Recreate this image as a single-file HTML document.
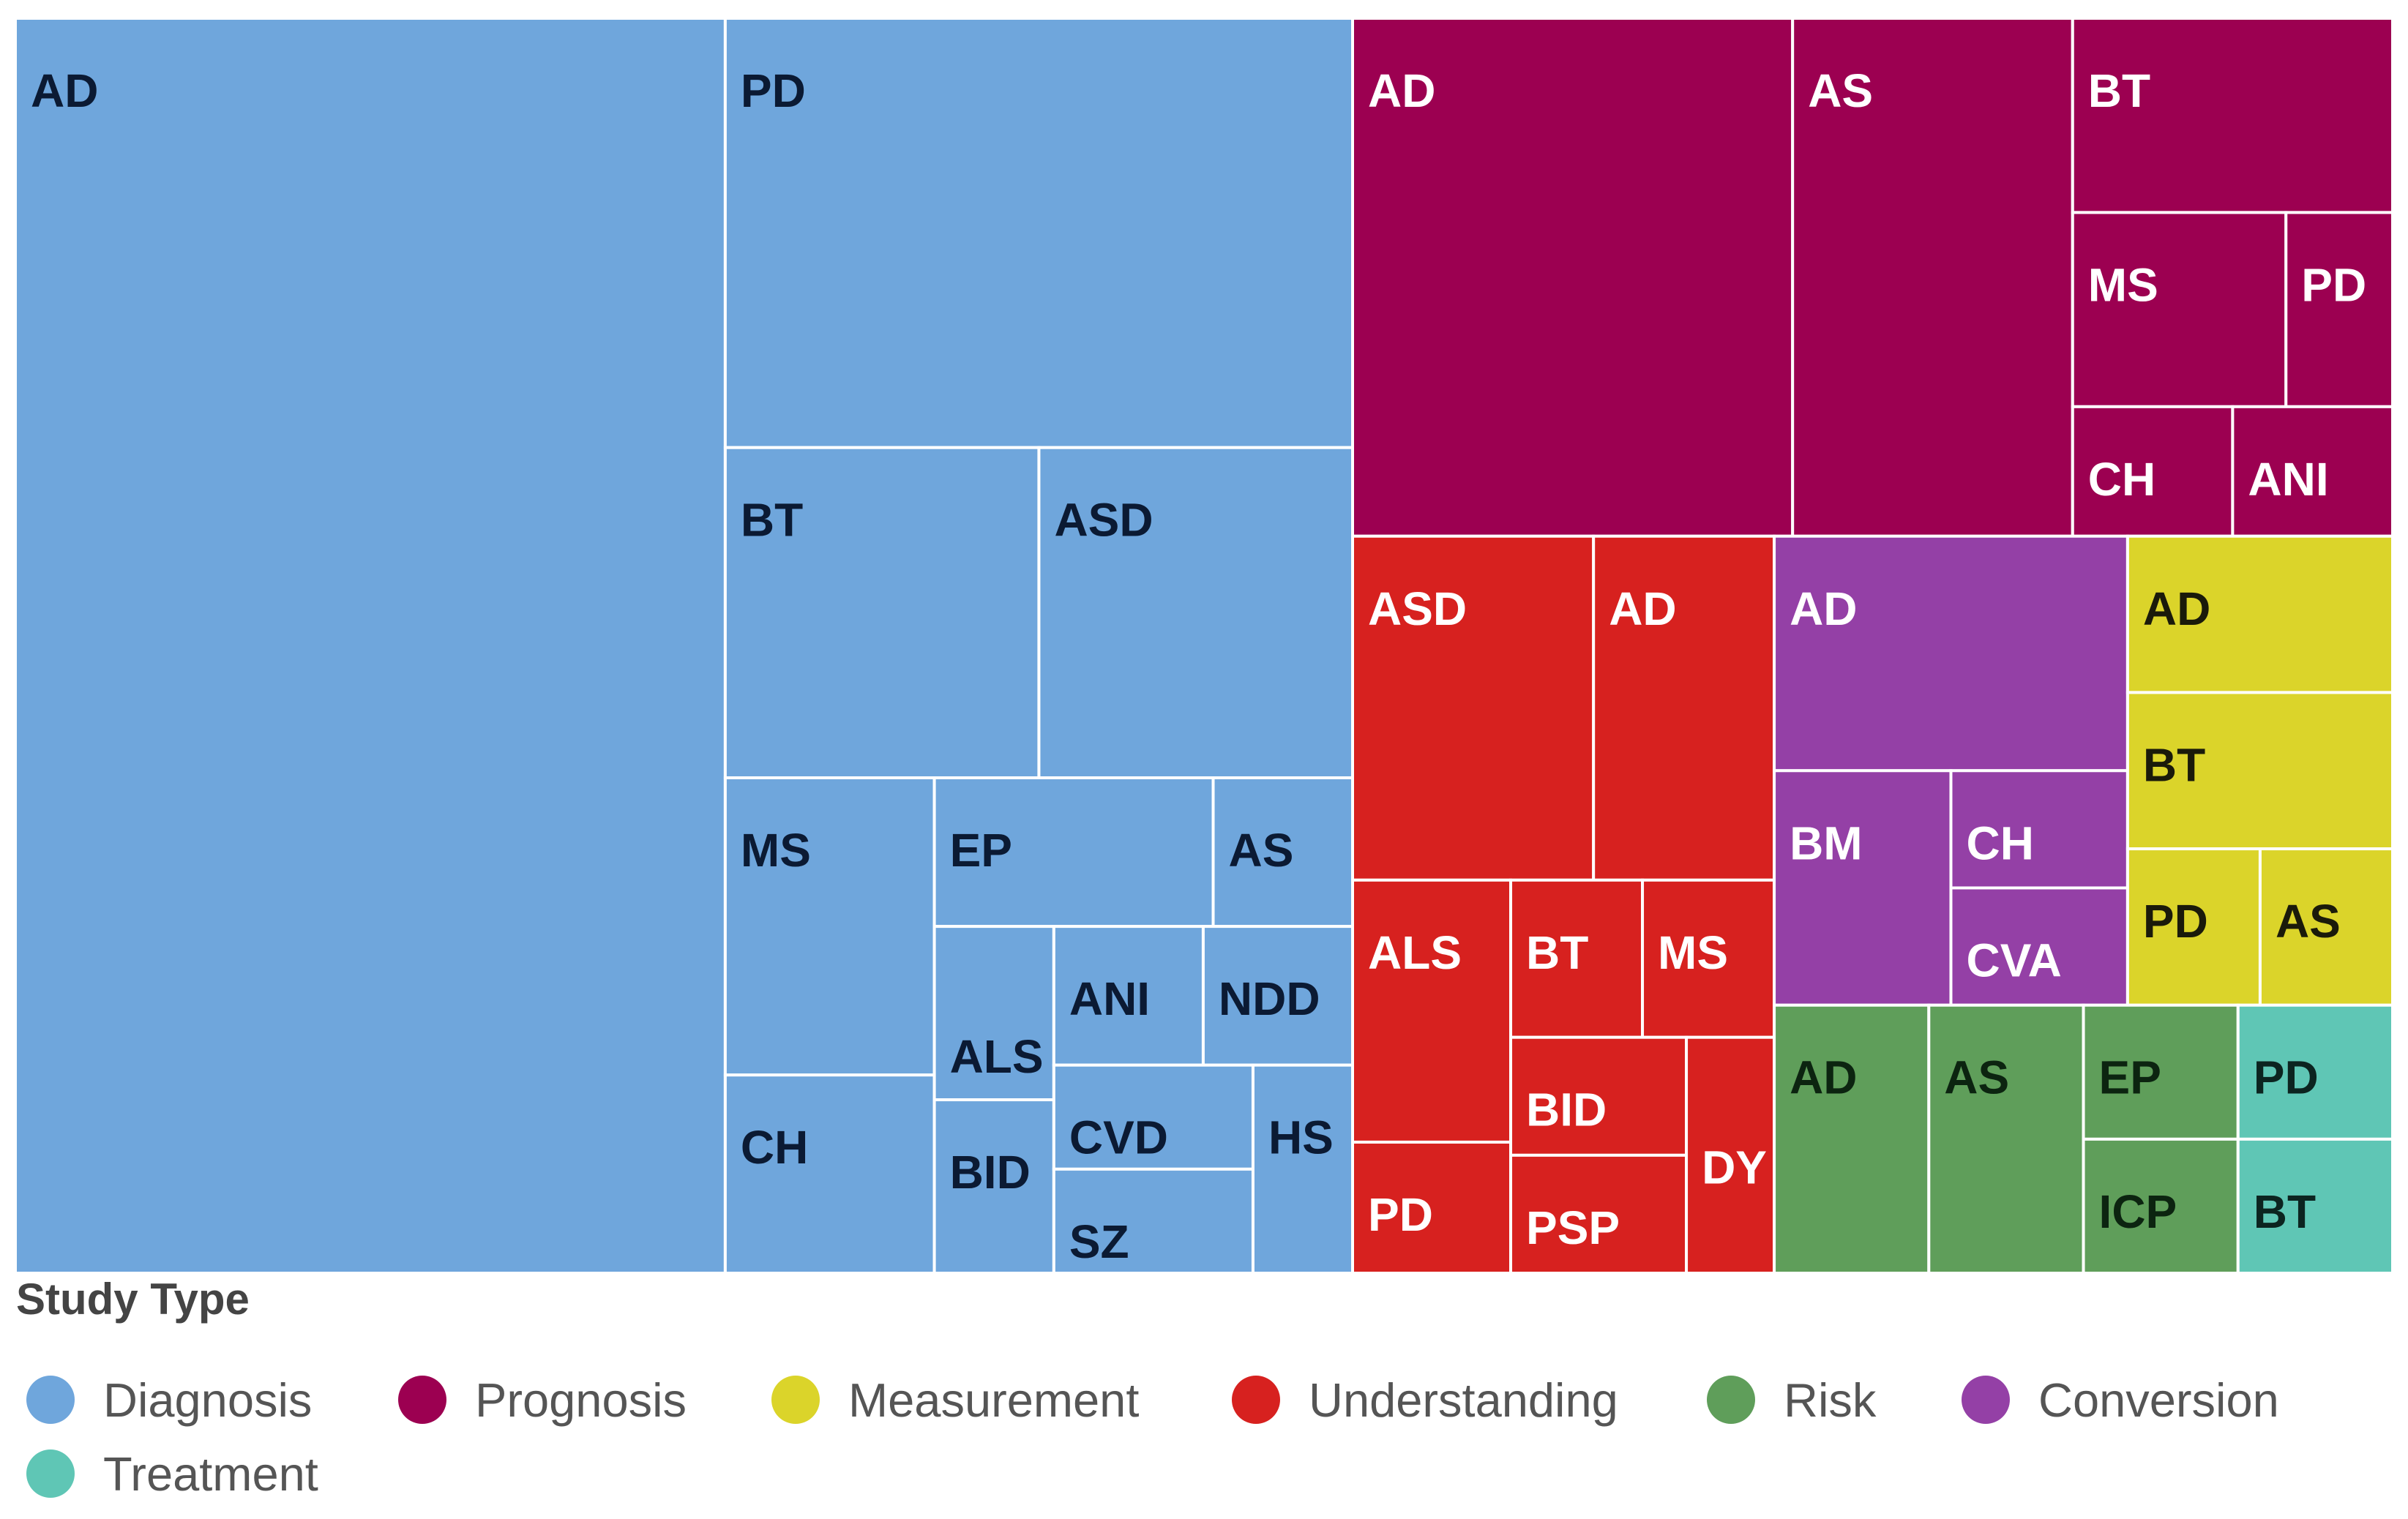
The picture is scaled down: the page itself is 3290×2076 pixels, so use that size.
<!DOCTYPE html>
<html>
<head>
<meta charset="utf-8">
<style>
  html,body{margin:0;padding:0;background:#fff;}
  svg{display:block;}
</style>
</head>
<body>
<svg id="chart" width="3290" height="2076" viewBox="0 0 3290 2076" xmlns="http://www.w3.org/2000/svg"></svg>
<script>
// ---- data ----
const categories = ["Diagnosis","Prognosis","Measurement","Understanding","Risk","Conversion","Treatment"];
const categoryColors = ["#6fa6dc","#9c0051","#dbd42a","#d7211f","#5f9e5a","#9440a6","#5fc6b5"];
const categoryTextColors = ["#0b1a33","#ffffff","#1a1a0a","#ffffff","#0c2410","#ffffff","#0c2420"];

const diagnosisLabels = ["AD","PD","BT","ASD","MS","CH","EP","AS","ALS","BID","ANI","NDD","CVD","SZ","HS"];
const diagnosisCounts = [43,13,5,5,3,2,2,1,1,1,1,1,1,1,1];
const prognosisLabels = ["AD","AS","BT","MS","PD","CH","ANI"];
const prognosisCounts = [11,7,3,2,1,1,1];
const understandingLabels = ["ASD","AD","ALS","PD","BT","MS","BID","PSP","DY"];
const understandingCounts = [4,3,2,1,1,1,1,1,1];
const conversionLabels = ["AD","BM","CH","CVA"];
const conversionCounts = [4,2,1,1];
const measurementLabels = ["AD","BT","PD","AS"];
const measurementCounts = [2,2,1,1];
const riskLabels = ["AD","AS","EP","ICP"];
const riskCounts = [2,2,1,1];
const treatmentLabels = ["PD","BT"];
const treatmentCounts = [1,1];

// Split tree: ["h"|"v", children...]; leaves are [categoryIndex, leafIndex]
const layoutTree = ["h",
  ["h",[0,0],
    ["v",[0,1],["h",[0,2],[0,3]],
      ["h",["v",[0,4],[0,5]],
        ["v",["h",[0,6],[0,7]],
          ["h",["v",[0,8],[0,9]],
            ["v",["h",[0,10],[0,11]],
              ["h",["v",[0,12],[0,13]],[0,14]]]]]]]],
  ["v",
    ["h",[1,0],[1,1],["v",[1,2],["h",[1,3],[1,4]],["h",[1,5],[1,6]]]],
    ["h",
      ["v",["h",[3,0],[3,1]],
        ["h",["v",[3,2],[3,3]],
          ["v",["h",[3,4],[3,5]],["h",["v",[3,6],[3,7]],[3,8]]]]],
      ["v",
        ["h",
          ["v",[5,0],["h",[5,1],["v",[5,2],[5,3]]]],
          ["v",[2,0],[2,1],["h",[2,2],[2,3]]]],
        ["h",
          ["h",[4,0],[4,1],["v",[4,2],[4,3]]],
          ["v",[6,0],[6,1]]]]]]
];
// labels placed lower in their cell (category,leaf)
const lowLabels = ["0-8","3-8"];

// ---- layout ----
const leafLabels = [diagnosisLabels,prognosisLabels,measurementLabels,understandingLabels,riskLabels,conversionLabels,treatmentLabels];
const leafCounts = [diagnosisCounts,prognosisCounts,measurementCounts,understandingCounts,riskCounts,conversionCounts,treatmentCounts];
const X0 = 21, X1 = 3269, Y0 = 25, Y1 = 1740;
const NS = "http://www.w3.org/2000/svg";
const svg = document.getElementById("chart");

function isLeaf(n){ return typeof n[0] === "number"; }
function total(n){
  if (isLeaf(n)) return leafCounts[n[0]][n[1]];
  let s = 0; for (let i=1;i<n.length;i++) s += total(n[i]); return s;
}
function layout(n,x,y,w,h){
  if (isLeaf(n)) { drawCell(n,x,y,w,h); return; }
  const T = total(n); let off = 0;
  for (let i=1;i<n.length;i++){
    const f = total(n[i])/T;
    if (n[0]==="h"){ layout(n[i],x+off*w,y,f*w,h); }
    else { layout(n[i],x,y+off*h,w,f*h); }
    off += f;
  }
}
function drawCell(n,x,y,w,h){
  const c = n[0], i = n[1];
  const g = document.createElementNS(NS,"g");
  
  
  const r = document.createElementNS(NS,"rect");
  r.setAttribute("x",x); r.setAttribute("y",y); r.setAttribute("width",w); r.setAttribute("height",h);
  r.setAttribute("fill",categoryColors[c]); r.setAttribute("stroke","#fff"); r.setAttribute("stroke-width","4");
  
  
  g.appendChild(r);
  const t = document.createElementNS(NS,"text");
  const low = lowLabels.indexOf(c+"-"+i) >= 0;
  t.setAttribute("x", x+21);
  t.setAttribute("y", low ? y + Math.min(h-24, 200) : y+121);
  t.setAttribute("font-family","Liberation Sans, Arial, sans-serif");
  t.setAttribute("font-weight","bold");
  t.setAttribute("font-size","64");
  t.setAttribute("fill",categoryTextColors[c]);
  
  
  t.textContent = leafLabels[c][i];
  g.appendChild(t);
  svg.appendChild(g);
}
layout(layoutTree,X0,Y0,X1-X0,Y1-Y0);

// ---- legend ----
const title = document.createElementNS(NS,"text");
title.setAttribute("x",22); title.setAttribute("y",1796);
title.setAttribute("font-family","Liberation Sans, Arial, sans-serif");
title.setAttribute("font-weight","bold"); title.setAttribute("font-size","60"); title.setAttribute("fill","#444");


title.textContent = "Study Type";
svg.appendChild(title);

const legendX = [69,577,1087,1716,2365,2713,69];
const legendY = [1913,1913,1913,1913,1913,1913,2014];
for (let k=0;k<categories.length;k++){
  const g = document.createElementNS(NS,"g");
  
  
  const ci = document.createElementNS(NS,"circle");
  ci.setAttribute("cx",legendX[k]); ci.setAttribute("cy",legendY[k]); ci.setAttribute("r",33);
  ci.setAttribute("fill",categoryColors[k]);
  
  
  g.appendChild(ci);
  const tx = document.createElementNS(NS,"text");
  tx.setAttribute("x",legendX[k]+72); tx.setAttribute("y",legendY[k]+23);
  tx.setAttribute("font-family","Liberation Sans, Arial, sans-serif");
  tx.setAttribute("font-size","65"); tx.setAttribute("fill","#555");
  
  
  tx.textContent = categories[k];
  g.appendChild(tx);
  svg.appendChild(g);
}
</script>
</body>
</html>
